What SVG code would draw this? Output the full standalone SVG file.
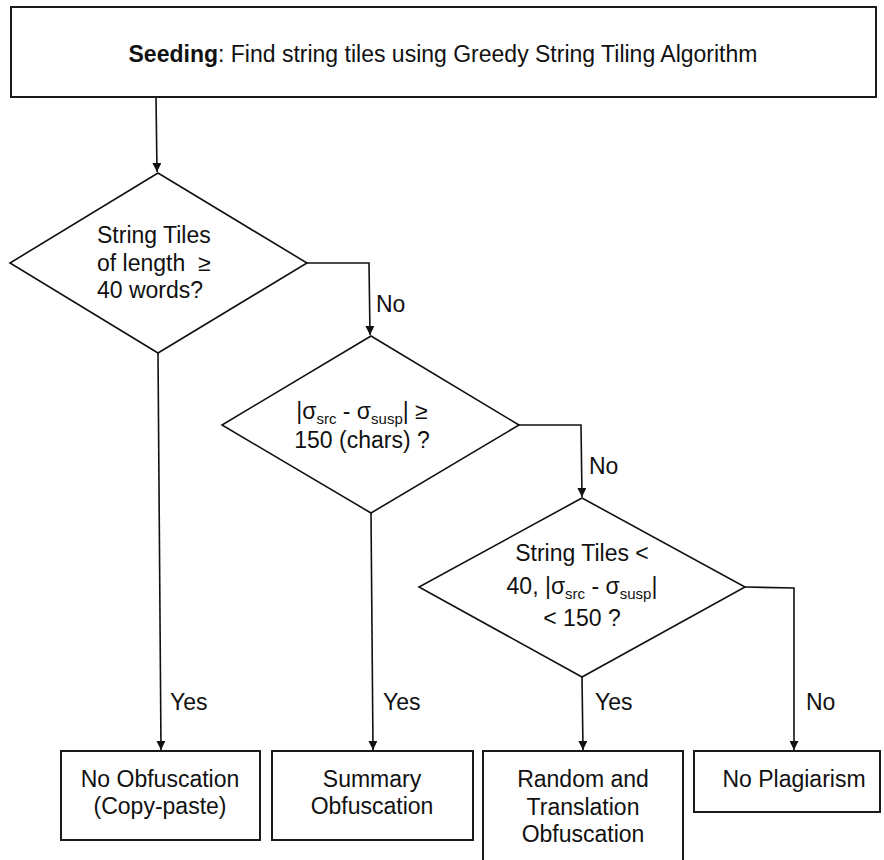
<svg xmlns="http://www.w3.org/2000/svg" width="884" height="860" viewBox="0 0 884 860">
  <style>
    .box { fill: #fff; stroke: #1a1a1a; stroke-width: 2; }
    .dec { fill: #fff; stroke: #111; stroke-width: 1.6; }
    .wire { fill: none; stroke: #111; stroke-width: 1.6; }
    text { font-family: "Liberation Sans", Arial, sans-serif; font-size: 23px; fill: #111; }
    .mid { text-anchor: middle; }
    .sub { font-size: 15px; }
  </style>
  <defs>
    <marker id="arrow" viewBox="0 0 10 10" refX="10" refY="5" markerWidth="9" markerHeight="9" markerUnits="userSpaceOnUse" orient="auto">
      <path d="M0,0 L10,5 L0,10 z" fill="#111"/>
    </marker>
  </defs>

  <rect width="884" height="860" fill="#fff"/>

  <!-- connectors -->
  <g id="connectors">
    <path class="wire" d="M156,97 L157,172" marker-end="url(#arrow)"/>
    <path class="wire" d="M307,263 L369,263 L370,335" marker-end="url(#arrow)"/>
    <path class="wire" d="M519,425 L581,425 L582,497" marker-end="url(#arrow)"/>
    <path class="wire" d="M745,587 L794,588 L794,750" marker-end="url(#arrow)"/>
    <path class="wire" d="M158,353 L161,750" marker-end="url(#arrow)"/>
    <path class="wire" d="M371,513 L373,750" marker-end="url(#arrow)"/>
    <path class="wire" d="M582,677 L583,750" marker-end="url(#arrow)"/>
    <text x="376" y="312">No</text>
    <text x="589" y="474">No</text>
    <text x="170" y="710">Yes</text>
    <text x="383" y="710">Yes</text>
    <text x="595" y="710">Yes</text>
    <text x="806" y="710">No</text>
  </g>

  <!-- start -->
  <g id="seeding">
    <rect class="box" x="11" y="7" width="865" height="90"/>
    <text class="mid" x="443" y="62"><tspan font-weight="bold">Seeding</tspan>: Find string tiles using Greedy String Tiling Algorithm</text>
  </g>

  <!-- decisions -->
  <g id="tile-length">
    <polygon class="dec" points="158,173 307,263 158,353 10,263"/>
    <text x="97" y="243">String Tiles</text>
    <text x="97" y="271">of length &#160;≥</text>
    <text x="97" y="298">40 words?</text>
  </g>

  <g id="length-diff">
    <polygon class="dec" points="371,336 519,425 371,513 222,425"/>
    <text class="mid" x="362" y="419">|σ<tspan class="sub" dy="5">src</tspan><tspan dy="-5"> - σ</tspan><tspan class="sub" dy="5">susp</tspan><tspan dy="-5">| ≥</tspan></text>
    <text class="mid" x="362" y="448">150 (chars) ?</text>
  </g>

  <g id="combined">
    <polygon class="dec" points="582,498 745,587 582,677 419,587"/>
    <text class="mid" x="582" y="561">String Tiles &lt;</text>
    <text class="mid" x="582" y="594">40, |σ<tspan class="sub" dy="5">src</tspan><tspan dy="-5"> - σ</tspan><tspan class="sub" dy="5">susp</tspan><tspan dy="-5">|</tspan></text>
    <text class="mid" x="582" y="626">&lt; 150 ?</text>
  </g>

  <!-- outcomes -->
  <g id="no-obfuscation">
    <rect class="box" x="61" y="751" width="199" height="89"/>
    <text class="mid" x="160" y="787">No Obfuscation</text>
    <text class="mid" x="160" y="814">(Copy-paste)</text>
  </g>

  <g id="summary">
    <rect class="box" x="272" y="751" width="201" height="89"/>
    <text class="mid" x="372" y="787">Summary</text>
    <text class="mid" x="372" y="814">Obfuscation</text>
  </g>

  <g id="random-translation">
    <rect class="box" x="483" y="751" width="200" height="115"/>
    <text class="mid" x="583" y="787">Random and</text>
    <text class="mid" x="583" y="815">Translation</text>
    <text class="mid" x="583" y="842">Obfuscation</text>
  </g>

  <g id="no-plagiarism">
    <rect class="box" x="694" y="751" width="186" height="61"/>
    <text class="mid" x="794" y="787">No Plagiarism</text>
  </g>
</svg>
